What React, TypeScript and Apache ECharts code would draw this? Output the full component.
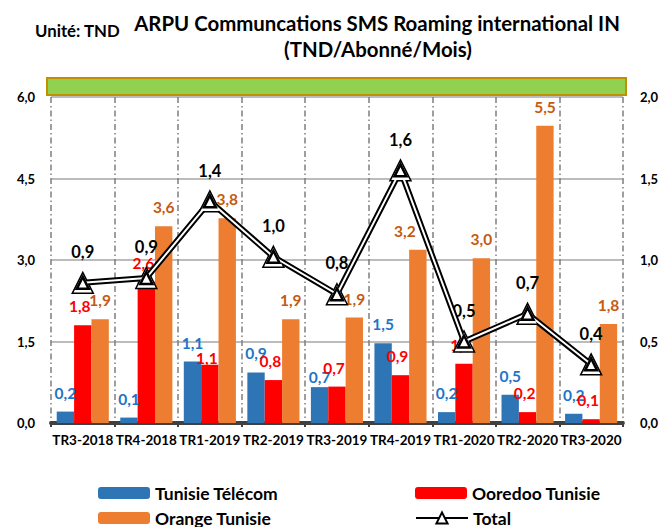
import React, { useEffect, useRef } from "react";
import * as echarts from "echarts";

const categories = ["TR3-2018", "TR4-2018", "TR1-2019", "TR2-2019", "TR3-2019", "TR4-2019", "TR1-2020", "TR2-2020", "TR3-2020"];
const tunisieTelecom = [0.21, 0.1, 1.13, 0.93, 0.66, 1.47, 0.2, 0.52, 0.17];
const ooredoo = [1.8, 2.6, 1.07, 0.79, 0.67, 0.88, 1.09, 0.2, 0.07];
const orange = [1.91, 3.62, 3.77, 1.91, 1.94, 3.19, 3.03, 5.47, 1.82];
const total = [0.86, 0.89, 1.36, 1.02, 0.79, 1.55, 0.5, 0.67, 0.36];

const FONT = "Lato, 'Open Sans', sans-serif";
const fmt = (v: number) => v.toFixed(1).replace(".", ",");

export default function App() {
  const ref = useRef<HTMLDivElement>(null);
  useEffect(() => {
    const chart = echarts.init(ref.current!, null, { renderer: "svg" });
    const barLabel = (color: string, dx = 0) => ({
      show: true,
      position: "top" as const,
      distance: 11,
      offset: [dx, 0],
      color,
      fontFamily: FONT,
      fontWeight: "bold" as const,
      fontSize: 15.5,
      formatter: (p: any) => fmt(p.value),
    });
    const legendText = { color: "#000", fontFamily: FONT, fontWeight: "bold" as const, fontSize: 17.5 };
    const labelShift: Record<string, Record<number, number[]>> = {
      blue: { 4: [0, 9] },
      red: { 2: [-3, 12] },
      orange: { 5: [-13, 0] },
    };
    const withShift = (arr: number[], key: string) =>
      arr.map((v, i) => (labelShift[key][i] ? { value: v, label: { offset: labelShift[key][i] } } : v));
    chart.setOption({
      animation: false,
      textStyle: { fontFamily: FONT },
      grid: { left: 51, right: 38, top: 97, bottom: 104 },
      graphic: [
        { type: "rect", shape: { x: 47, y: 78, width: 579, height: 17 }, style: { fill: "#92D050", stroke: "#BF9000", lineWidth: 2 } },
        { type: "text", x: 377, y: 13, style: { text: "ARPU Communcations SMS Roaming international IN", textAlign: "center", fill: "#000", font: `bold 20.4px ${FONT}` } },
        { type: "text", x: 378, y: 39, style: { text: "(TND/Abonné/Mois)", textAlign: "center", fill: "#000", font: `bold 20.4px ${FONT}` } },
        { type: "text", x: 35, y: 21.5, style: { text: "Unité: TND", textAlign: "left", fill: "#000", font: `bold 16.8px ${FONT}` } },
      ],
      legend: [
        { data: ["Tunisie Télécom"], left: 98, top: 484, padding: 0, itemWidth: 52, itemHeight: 12, itemGap: 6, textStyle: legendText },
        { data: ["Ooredoo Tunisie"], left: 415, top: 484, padding: 0, itemWidth: 52, itemHeight: 12, itemGap: 6, textStyle: legendText },
        { data: ["Orange Tunisie"], left: 98, top: 509, padding: 0, itemWidth: 52, itemHeight: 12, itemGap: 6, textStyle: legendText },
        { data: ["Total"], left: 415, top: 509, padding: 0, itemWidth: 52, itemHeight: 14, itemGap: 6, textStyle: legendText },
      ],
      xAxis: {
        type: "category",
        data: categories,
        axisLine: { show: true, lineStyle: { color: "#404040", width: 4 } },
        axisTick: { show: true, length: 4, lineStyle: { color: "#404040", width: 2 } },
        axisLabel: { color: "#000", fontFamily: FONT, fontWeight: "bold", fontSize: 13.5, margin: 10, interval: 0 },
        splitLine: { show: true, lineStyle: { color: "#7F7F7F", width: 1.5, type: [6, 3, 1.5, 3] } },
      },
      yAxis: [
        {
          type: "value", min: 0, max: 6, interval: 1.5,
          axisLine: { show: false }, axisTick: { show: false },
          axisLabel: { color: "#000", fontFamily: FONT, fontWeight: "bold", fontSize: 13, margin: 16, formatter: fmt },
          splitLine: { show: true, lineStyle: { color: "#A6A6A6", width: 1.5 } },
        },
        {
          type: "value", min: 0, max: 2, interval: 0.5,
          axisLine: { show: false }, axisTick: { show: false },
          axisLabel: { color: "#000", fontFamily: FONT, fontWeight: "bold", fontSize: 13, margin: 17, formatter: fmt },
          splitLine: { show: false },
        },
      ],
      series: [
        { name: "Tunisie Télécom", type: "bar", data: withShift(tunisieTelecom, "blue"), barGap: "0%", barCategoryGap: "18%", itemStyle: { color: "#2E75B6" }, label: barLabel("#1C75C8") },
        { name: "Ooredoo Tunisie", type: "bar", data: withShift(ooredoo, "red"), barGap: "0%", barCategoryGap: "18%", itemStyle: { color: "#FF0000" }, label: barLabel("#FF0000", -3) },
        { name: "Orange Tunisie", type: "bar", data: withShift(orange, "orange"), barGap: "0%", barCategoryGap: "18%", itemStyle: { color: "#ED7D31" }, label: barLabel("#C55A11") },
        {
          name: "Total", type: "line", yAxisIndex: 1, data: total, z: 5,
          symbol: "triangle", symbolSize: 21,
          lineStyle: { color: "#000", width: 6 },
          itemStyle: { color: "#fff", borderColor: "#000", borderWidth: 1.5 },
          label: { show: true, position: "top", distance: 11, color: "#000", fontFamily: FONT, fontWeight: "bold", fontSize: 16.5, formatter: (p: any) => fmt(p.value) },
        },
        {
          name: "Total-inner", type: "line", yAxisIndex: 1, data: total, z: 6,
          symbol: "triangle", symbolSize: 12,
          lineStyle: { color: "#fff", width: 2 },
          itemStyle: { color: "#fff", borderColor: "#000", borderWidth: 2.5 },
          label: { show: false },
        },
      ],
    });
    return () => chart.dispose();
  }, []);
  return <div ref={ref} style={{ width: 661, height: 527, position: "absolute", left: 0, top: 0 }} />;
}
